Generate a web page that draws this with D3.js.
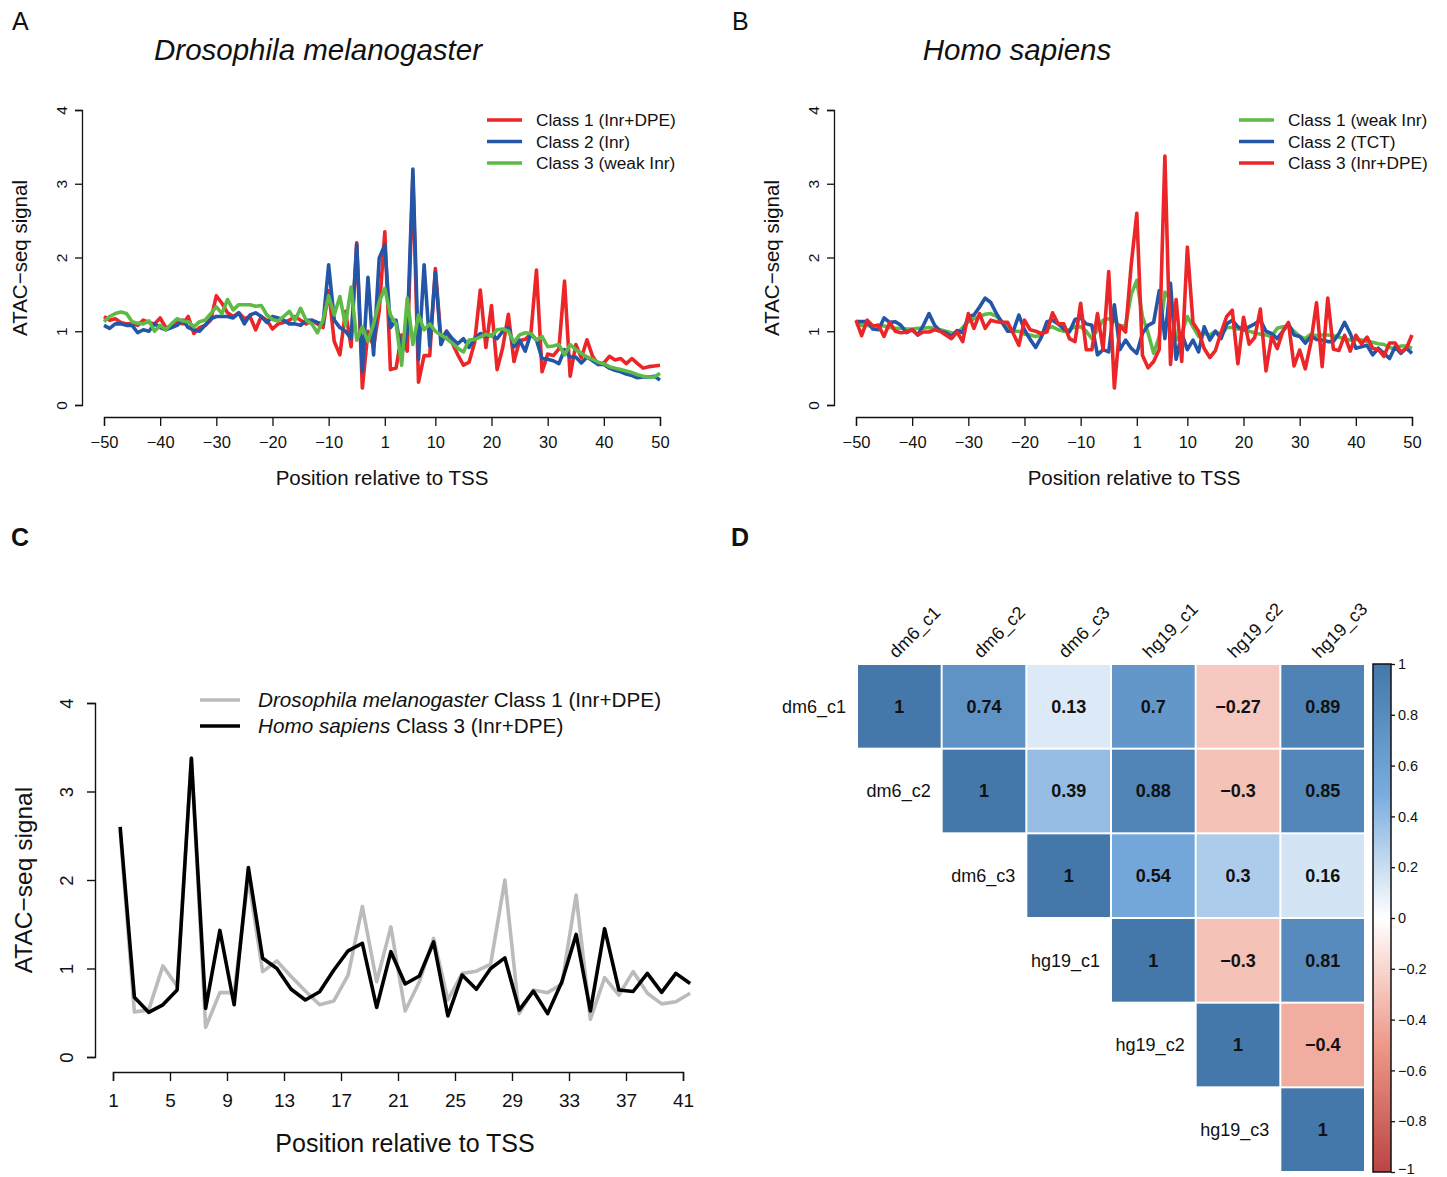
<!DOCTYPE html>
<html>
<head>
<meta charset="utf-8">
<script src="https://cdn.jsdelivr.net/npm/d3@7/dist/d3.min.js"></script>
<style>
  html, body { margin: 0; padding: 0; background: #fff; }
  svg text { font-family: "Liberation Sans", Arial, sans-serif; fill: #111; }
</style>
</head>
<body>
<svg id="chart" width="1447" height="1177"></svg>
<script>
// ---------------- DATA ----------------
// Position categories (no position 0)
const positions = d3.range(-50, 0).concat(d3.range(1, 51));
const xTickLabels = [-50, -40, -30, -20, -10, 1, 10, 20, 30, 40, 50];
const yTicksAB = [0, 1, 2, 3, 4];

// Panel A: Drosophila melanogaster
const dmClass1 = [1.2,1.15,1.17,1.12,1.1,1.1,1.08,1.15,1.12,1.1,
  1.18,1.05,1.05,1.12,1.1,1.2,0.97,1.05,1.08,1.15,
  1.48,1.38,1.25,1.2,1.25,1.17,1.2,1.02,1.2,1.15,
  1.03,1.1,1.12,1.15,1.2,1.15,1.1,1.15,1.1,1.05,
  1.55,0.86,0.68,1.27,0.79,2.2,0.23,1.0,0.79,1.27,
  2.35,0.48,0.5,0.95,0.73,3.1,0.31,0.67,0.67,1.85,
  0.89,1.0,0.84,0.68,0.54,0.58,0.85,1.56,0.78,1.35,
  0.48,0.78,1.23,0.59,0.87,0.89,0.96,1.83,0.45,0.69,
  0.67,0.76,1.68,0.39,0.82,0.64,0.885,0.66,0.55,0.57,
  0.66,0.61,0.63,0.56,0.63,0.56,0.5,0.52,0.53,0.54];
const dmClass2 = [1.08,1.04,1.1,1.1,1.08,1.08,0.98,1.02,1.0,1.1,
  1.05,1.02,1.05,1.08,1.15,1.05,1.02,1.0,1.08,1.17,
  1.2,1.2,1.2,1.18,1.25,1.1,1.22,1.25,1.2,1.12,
  1.2,1.18,1.15,1.1,1.1,1.08,1.15,1.15,1.12,1.1,
  1.9,1.15,1.05,1.0,0.9,2.18,0.45,1.73,0.68,1.99,
  2.17,1.05,1.15,0.68,1.0,3.2,0.62,1.9,0.8,1.8,
  0.82,1.0,0.9,0.83,0.9,0.78,0.9,0.97,0.93,0.95,
  0.9,1.0,1.05,0.79,0.88,0.73,0.97,0.88,0.63,0.62,
  0.6,0.56,0.75,0.65,0.65,0.57,0.65,0.6,0.55,0.55,
  0.5,0.47,0.45,0.42,0.4,0.37,0.38,0.38,0.39,0.34];
const dmClass3 = [1.13,1.2,1.24,1.26,1.24,1.13,1.11,1.1,1.14,1.0,
  1.08,1.02,1.1,1.17,1.14,1.13,1.06,1.13,1.15,1.24,
  1.33,1.24,1.43,1.29,1.36,1.36,1.36,1.34,1.35,1.22,
  1.16,1.14,1.2,1.27,1.15,1.31,1.15,1.1,0.98,1.15,
  1.48,1.22,1.47,1.08,1.6,0.88,1.06,0.86,1.1,1.4,
  1.58,1.22,1.1,0.54,1.45,0.82,1.22,1.02,1.1,1.0,
  0.95,0.9,0.84,0.77,0.72,0.88,0.89,0.92,0.96,0.93,
  1.02,1.03,1.0,0.85,0.95,0.98,0.97,0.88,0.93,0.79,
  0.8,0.82,0.68,0.82,0.75,0.7,0.65,0.62,0.58,0.56,
  0.52,0.5,0.48,0.46,0.44,0.41,0.39,0.38,0.38,0.43];

// Panel B: Homo sapiens
const hsClass1 = [1.1,1.08,1.08,1.07,1.08,1.07,1.05,1.04,1.04,1.03,
  1.03,1.04,1.04,1.05,1.04,1.02,1.0,0.98,0.97,1.05,
  1.13,1.17,1.2,1.23,1.24,1.2,1.13,1.05,1.0,1.0,
  0.96,0.95,0.93,0.95,1.04,1.06,1.02,1.0,1.02,1.06,
  1.06,1.0,0.9,1.02,1.15,1.17,1.15,1.06,1.08,1.5,
  1.69,1.2,0.98,0.7,0.93,1.53,1.43,0.88,0.97,1.2,
  1.06,0.93,0.97,0.95,1.0,0.95,1.05,1.05,1.03,1.02,
  1.0,0.98,0.96,0.95,0.93,1.04,1.06,1.07,1.0,0.93,
  0.9,0.96,0.94,0.95,0.95,0.94,0.92,0.9,0.88,0.89,
  0.88,0.86,0.85,0.83,0.82,0.78,0.76,0.8,0.8,0.77];
const hsClass2 = [1.13,1.13,1.13,1.03,1.02,1.18,1.12,1.13,1.08,0.98,
  1.02,0.95,1.08,1.24,1.08,1.0,0.98,0.93,1.01,0.98,
  1.2,1.22,1.33,1.45,1.39,1.24,1.12,1.0,1.0,1.22,
  1.02,0.89,0.78,0.92,1.13,1.15,1.1,1.03,0.99,1.16,
  1.18,1.1,1.08,0.68,0.75,0.72,1.36,0.75,0.88,0.77,
  0.7,0.97,1.08,1.12,1.55,0.9,1.65,0.62,0.97,0.75,
  0.88,0.72,1.06,0.88,1.0,0.9,1.1,1.15,1.06,1.02,
  1.06,1.1,1.15,1.0,0.97,0.9,1.0,1.1,0.95,0.93,
  0.84,0.93,0.89,0.88,0.86,0.86,0.97,1.12,0.97,0.77,
  0.79,0.81,0.68,0.77,0.7,0.63,0.79,0.7,0.77,0.7];
const hsClass3 = [1.15,0.94,1.15,1.07,1.08,0.93,1.12,1.0,0.98,0.99,
  1.02,0.95,0.99,0.99,1.02,1.0,0.95,0.9,0.99,0.86,
  1.24,1.04,1.24,1.04,1.15,1.13,1.12,1.12,0.97,0.81,
  1.15,1.02,1.0,0.97,0.99,1.25,1.1,1.1,0.9,0.86,
  1.38,0.75,0.75,1.24,0.75,1.81,0.23,1.08,0.99,1.9,
  2.6,0.675,0.505,0.59,0.757,3.375,0.55,1.43,0.59,2.14,
  1.115,1.0,0.765,0.644,0.738,0.983,1.2,1.285,0.56,1.19,
  0.825,0.915,1.3,0.463,0.926,0.765,1.0,1.12,0.53,0.745,
  0.49,0.85,1.385,0.52,1.45,0.757,0.74,0.945,0.73,0.945,
  0.83,0.92,0.77,0.75,0.66,0.84,0.84,0.72,0.77,0.95];

// Panel C: positions 1..41
const positionsC = d3.range(1, 42);
const xTickLabelsC = [1, 5, 9, 13, 17, 21, 25, 29, 33, 37, 41];
const dmC1_C = [2.56,0.51,0.53,1.03,0.8,3.38,0.335,0.727,0.727,2.02,
  0.965,1.085,0.91,0.745,0.59,0.633,0.926,1.70,0.85,1.47,
  0.52,0.85,1.34,0.644,0.945,0.97,1.05,2.00,0.49,0.757,
  0.727,0.825,1.83,0.426,0.896,0.70,0.965,0.72,0.60,0.625,0.72];
const hsC3_C = [2.6,0.675,0.505,0.59,0.757,3.375,0.55,1.43,0.59,2.14,
  1.115,1.0,0.765,0.644,0.738,0.983,1.2,1.285,0.56,1.19,
  0.825,0.915,1.3,0.463,0.926,0.765,1.0,1.12,0.53,0.745,
  0.49,0.85,1.385,0.52,1.45,0.757,0.74,0.945,0.73,0.945,0.83];

// Panel D: correlation matrix (upper triangle)
const corrLabels = ["dm6_c1", "dm6_c2", "dm6_c3", "hg19_c1", "hg19_c2", "hg19_c3"];
const corrRow1 = [1, 0.74, 0.13, 0.7, -0.27, 0.89];
const corrRow2 = [null, 1, 0.39, 0.88, -0.3, 0.85];
const corrRow3 = [null, null, 1, 0.54, 0.3, 0.16];
const corrRow4 = [null, null, null, 1, -0.3, 0.81];
const corrRow5 = [null, null, null, null, 1, -0.4];
const corrRow6 = [null, null, null, null, null, 1];
const colorbarTicks = [1, 0.8, 0.6, 0.4, 0.2, 0, -0.2, -0.4, -0.6, -0.8, -1];

// ---------------- DRAWING ----------------
const svg = d3.select("#chart");
const minus = s => String(s).replace("-", "\u2212");
const RED = "#EC2528", BLUE = "#2356A6", GREEN = "#5DBA47";

function profilePanel(opt) {
  const x = d3.scalePoint().domain(positions).range([opt.x0, opt.x1]);
  const y = d3.scaleLinear().domain([0, 4]).range([405, 110]);
  const g = svg.append("g");
  // y axis
  const ya = g.append("g").attr("transform", `translate(${opt.yAxisX},0)`)
    .call(d3.axisLeft(y).tickValues(yTicksAB).tickSize(7).tickFormat(d3.format("d")));
  ya.select(".domain").attr("stroke", "#111").attr("stroke-width", 1.3);
  ya.selectAll(".tick line").attr("stroke", "#111").attr("stroke-width", 1.3);
  ya.selectAll(".tick text").attr("font-size", 15.5).attr("x", 0).attr("dy", 0)
    .attr("transform", "translate(-21,0) rotate(-90)").attr("text-anchor", "middle")
    .attr("dominant-baseline", "central");
  // x axis
  const xa = g.append("g").attr("transform", "translate(0,417)")
    .call(d3.axisBottom(x).tickValues(xTickLabels).tickSize(9).tickFormat(d => minus(d)));
  xa.select(".domain").attr("stroke", "#111").attr("stroke-width", 1.3);
  xa.selectAll(".tick line").attr("stroke", "#111").attr("stroke-width", 1.3);
  xa.selectAll(".tick text").attr("font-size", 16.5).attr("y", 19);
  // titles
  g.append("text").attr("x", opt.titleX).attr("y", 60).attr("text-anchor", "middle")
    .attr("font-size", 29.5).attr("font-style", "italic").text(opt.title);
  g.append("text").attr("x", (opt.x0 + opt.x1) / 2).attr("y", 485).attr("text-anchor", "middle")
    .attr("font-size", 20.5).text("Position relative to TSS");
  g.append("text").attr("transform", `translate(${opt.yTitleX},258) rotate(-90)`)
    .attr("text-anchor", "middle").attr("font-size", 20.5).text("ATAC\u2212seq signal");
  g.append("text").attr("x", opt.letterX).attr("y", 30).attr("font-size", 25).text(opt.letter);
  // lines
  const line = d3.line().x((d, i) => x(positions[i])).y(d => y(d));
  opt.series.forEach(s => {
    g.append("path").datum(s.values).attr("d", line).attr("fill", "none")
      .attr("stroke", s.color).attr("stroke-width", 3.6).attr("stroke-linejoin", "round");
  });
  // legend
  opt.legend.forEach((s, k) => {
    const ly = 120 + k * 21.5;
    g.append("line").attr("x1", opt.legX).attr("x2", opt.legX + 35).attr("y1", ly).attr("y2", ly)
      .attr("stroke", s.color).attr("stroke-width", 3.6);
    g.append("text").attr("x", opt.legX + 49).attr("y", ly).attr("dy", "0.35em")
      .attr("font-size", 17.3).text(s.label);
  });
}

profilePanel({
  x0: 104, x1: 660, yAxisX: 82, yTitleX: 27, titleX: 318, letterX: 12, letter: "A",
  title: "Drosophila melanogaster", legX: 487,
  series: [{values: dmClass1, color: RED}, {values: dmClass2, color: BLUE}, {values: dmClass3, color: GREEN}],
  legend: [{label: "Class 1 (Inr+DPE)", color: RED}, {label: "Class 2 (Inr)", color: BLUE}, {label: "Class 3 (weak Inr)", color: GREEN}]
});
profilePanel({
  x0: 856, x1: 1412, yAxisX: 834, yTitleX: 779, titleX: 1017, letterX: 732, letter: "B",
  title: "Homo sapiens", legX: 1239,
  series: [{values: hsClass1, color: GREEN}, {values: hsClass2, color: BLUE}, {values: hsClass3, color: RED}],
  legend: [{label: "Class 1 (weak Inr)", color: GREEN}, {label: "Class 2 (TCT)", color: BLUE}, {label: "Class 3 (Inr+DPE)", color: RED}]
});

// Panel C
(function () {
  const g = svg.append("g");
  const x = d3.scaleLinear().domain([0.5, 40.5]).range([113, 683]);
  const y = d3.scaleLinear().domain([0, 4]).range([1057, 703]);
  const ya = g.append("g").attr("transform", "translate(95,0)")
    .call(d3.axisLeft(y).tickValues(yTicksAB).tickSize(8).tickFormat(d3.format("d")));
  ya.select(".domain").attr("stroke", "#111").attr("stroke-width", 1.4);
  ya.selectAll(".tick line").attr("stroke", "#111").attr("stroke-width", 1.4);
  ya.selectAll(".tick text").attr("font-size", 18.5).attr("x", 0).attr("dy", 0)
    .attr("transform", "translate(-29,0) rotate(-90)").attr("text-anchor", "middle")
    .attr("dominant-baseline", "central");
  const xa = g.append("g").attr("transform", "translate(0,1072)")
    .call(d3.axisBottom(x).tickValues(xTickLabelsC.map(t => t - 0.5)).tickSize(9)
      .tickFormat(d => d + 0.5));
  xa.select(".domain").attr("stroke", "#111").attr("stroke-width", 1.4);
  xa.selectAll(".tick line").attr("stroke", "#111").attr("stroke-width", 1.4);
  xa.selectAll(".tick text").attr("font-size", 19).attr("y", 22);
  g.append("text").attr("x", 405).attr("y", 1152).attr("text-anchor", "middle")
    .attr("font-size", 25).text("Position relative to TSS");
  g.append("text").attr("transform", "translate(32,880) rotate(-90)")
    .attr("text-anchor", "middle").attr("font-size", 24.5).text("ATAC\u2212seq signal");
  g.append("text").attr("x", 11).attr("y", 546).attr("font-size", 25).attr("font-weight", "bold").text("C");
  const line = d3.line().x((d, i) => x(positionsC[i])).y(d => y(d));
  [{v: dmC1_C, c: "#BBBBBB"}, {v: hsC3_C, c: "#000"}].forEach(s => {
    g.append("path").datum(s.v).attr("d", line).attr("fill", "none")
      .attr("stroke", s.c).attr("stroke-width", 3.6).attr("stroke-linejoin", "round");
  });
  const leg = [{c: "#BBBBBB", it: "Drosophila melanogaster", rest: " Class 1 (Inr+DPE)"},
               {c: "#000", it: "Homo sapiens", rest: " Class 3 (Inr+DPE)"}];
  leg.forEach((l, k) => {
    const ly = 700 + k * 26;
    g.append("line").attr("x1", 200).attr("x2", 240).attr("y1", ly).attr("y2", ly)
      .attr("stroke", l.c).attr("stroke-width", 3.6);
    const t = g.append("text").attr("x", 258).attr("y", ly).attr("dy", "0.35em").attr("font-size", 20.7);
    t.append("tspan").attr("font-style", "italic").text(l.it);
    t.append("tspan").text(l.rest);
  });
})();

// Panel D
(function () {
  const g = svg.append("g");
  const rows = [corrRow1, corrRow2, corrRow3, corrRow4, corrRow5, corrRow6];
  const band = d3.scaleBand().domain(corrLabels).range([857, 1365]);
  const bandY = d3.scaleBand().domain(corrLabels).range([664, 1172]);
  const color = d3.scaleLinear().domain([-1, -0.5, 0, 0.5, 1])
    .range(["#BB4444", "#EE9988", "#FFFFFF", "#77AADD", "#4477AA"]);
  const cells = [];
  rows.forEach((r, i) => r.forEach((v, j) => { if (v !== null) cells.push({i, j, v}); }));
  const bw = band.bandwidth();
  g.selectAll("rect.cell").data(cells).enter().append("rect")
    .attr("x", d => band(corrLabels[d.j]) + 1).attr("y", d => bandY(corrLabels[d.i]) + 1)
    .attr("width", bw - 2).attr("height", bw - 2)
    .attr("fill", d => color(d.v));
  g.selectAll("text.val").data(cells).enter().append("text")
    .attr("x", d => band(corrLabels[d.j]) + bw / 2).attr("y", d => bandY(corrLabels[d.i]) + bw / 2)
    .attr("dy", "0.36em").attr("text-anchor", "middle").attr("font-weight", "bold")
    .attr("font-size", 18).text(d => minus(d.v));
  // row labels
  g.selectAll("text.rl").data(corrLabels).enter().append("text")
    .attr("x", (d) => band(d) - 11).attr("y", d => bandY(d) + bw / 2).attr("dy", "0.36em")
    .attr("text-anchor", "end").attr("font-size", 18).text(d => d);
  // column labels
  g.selectAll("text.cl").data(corrLabels).enter().append("text")
    .attr("transform", d => `translate(${band(d) + bw / 2 - 3},${659}) rotate(-45)`)
    .attr("font-size", 18).text(d => d);
  // colorbar
  const cy = d3.scaleLinear().domain([-1, 1]).range([1172, 664]);
  const defs = svg.append("defs");
  const grad = defs.append("linearGradient").attr("id", "cbgrad")
    .attr("x1", 0).attr("x2", 0).attr("y1", 1).attr("y2", 0);
  d3.range(0, 1.0001, 0.05).forEach(t => {
    grad.append("stop").attr("offset", t).attr("stop-color", color(-1 + 2 * t));
  });
  g.append("rect").attr("x", 1373).attr("y", 664).attr("width", 18).attr("height", 508)
    .attr("fill", "url(#cbgrad)").attr("stroke", "#111").attr("stroke-width", 1.5);
  const ca = g.append("g").attr("transform", "translate(1391,0)")
    .call(d3.axisRight(cy).tickValues(colorbarTicks).tickSize(4).tickFormat(d => minus(d)));
  ca.select(".domain").remove();
  ca.selectAll(".tick line").attr("stroke", "#111").attr("stroke-width", 1.3);
  ca.selectAll(".tick text").attr("font-size", 14.5).attr("x", 7)
    .attr("dy", d => d === -1 ? "0.12em" : "0.32em");
  g.append("text").attr("x", 731).attr("y", 546).attr("font-size", 25).attr("font-weight", "bold").text("D");
})();
</script>
</body>
</html>
